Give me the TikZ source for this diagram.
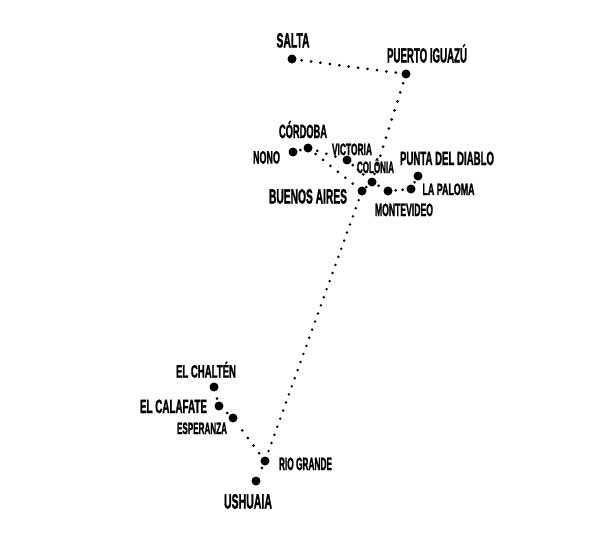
\documentclass[tikz,border=0pt]{standalone}
\usepackage{graphicx}
\usepackage{fontspec}
\setmainfont{Liberation Sans}[BoldFeatures={FakeBold=2}]
\newcommand{\capfit}[3]{\resizebox{#1pt}{#2pt}{\raisebox{0pt}[7.3pt][0pt]{#3}}}
\tikzset{
  stop/.style={circle,fill=black,inner sep=0pt,minimum size=9pt},
  place/.style={inner sep=0pt,font=\bfseries,text=black},
  route/.style={draw=black,line width=3pt,line cap=round,dash pattern=on 0pt off 9.5pt,shorten <=5pt,shorten >=3pt},
  shortroute/.style={route,shorten <=3pt,shorten >=3pt,dash pattern=on 0pt off 7pt},
  longroute/.style={route,line width=2.7pt,dash pattern=on 0pt off 8.6pt}
}
\begin{document}
\begin{tikzpicture}[x=1pt,y=-1pt]
\useasboundingbox (0,0) rectangle (606,533);
% stops
\node[stop] (salta) at (292,59) {};
\node[stop] (iguazu) at (406,74) {};
\node[stop] (nono) at (293,152) {};
\node[stop] (cordoba) at (308,148) {};
\node[stop] (victoria) at (347,160) {};
\node[stop] (colonia) at (372,182) {};
\node[stop] (baires) at (362,191) {};
\node[stop] (montevideo) at (388,191) {};
\node[stop] (paloma) at (411,189) {};
\node[stop] (punta) at (418,176) {};
\node[stop] (chalten) at (214,387) {};
\node[stop] (calafate) at (219,406) {};
\node[stop] (esperanza) at (233,418) {};
\node[stop] (riogrande) at (265,461) {};
\node[stop] (ushuaia) at (256,481) {};
% routes
\draw[route] (salta) -- (iguazu);
\draw[route] (iguazu) -- (colonia);
\draw[shortroute] (nono) -- (cordoba);
\draw[route] (cordoba) -- (victoria);
\draw[route] (cordoba) -- (baires);
\draw[shortroute] (victoria) -- (colonia);
\draw[shortroute] (colonia) -- (baires);
\draw[shortroute] (colonia) -- (montevideo);
\draw[shortroute] (montevideo) -- (paloma);
\draw[shortroute] (paloma) -- (punta);
\draw[longroute] (baires) -- (riogrande);
\draw[shortroute] (riogrande) -- (ushuaia);
\draw[route] (riogrande) -- (esperanza);
\draw[shortroute] (esperanza) -- (calafate);
\draw[shortroute] (calafate) -- (chalten);
% labels
\node[place] (lsalta) at (293,40) {\capfit{33}{15}{SALTA}};
\node[place] (liguazu) at (427,55) {\capfit{80}{15}{PUERTO IGUAZÚ}};
\node[place] (lcordoba) at (303,131) {\capfit{48}{14}{CÓRDOBA}};
\node[place] (lnono) at (266.5,157) {\capfit{27}{13}{NONO}};
\node[place] (lvictoria) at (352,149) {\capfit{40}{12}{VICTORIA}};
\node[place] (lcolonia) at (375.5,167) {\capfit{37}{12}{COLÔNIA}};
\node[place] (lpunta) at (447,158) {\capfit{94}{14}{PUNTA DEL DIABLO}};
\node[place] (lpaloma) at (448.5,189) {\capfit{52}{12}{LA PALOMA}};
\node[place] (lbaires) at (308,196) {\capfit{78}{15}{BUENOS AIRES}};
\node[place] (lmontevideo) at (404,209.5) {\capfit{58}{13}{MONTEVIDEO}};
\node[place] (lchalten) at (206,371) {\capfit{60}{13}{EL CHALTÉN}};
\node[place] (lcalafate) at (173.5,406) {\capfit{67}{14}{EL CALAFATE}};
\node[place] (lesperanza) at (202,428) {\capfit{50}{12}{ESPERANZA}};
\node[place] (lriogrande) at (305.5,463.5) {\capfit{53}{13}{RIO GRANDE}};
\node[place] (lushuaia) at (248,501) {\capfit{48}{15}{USHUAIA}};
\end{tikzpicture}
\end{document}
